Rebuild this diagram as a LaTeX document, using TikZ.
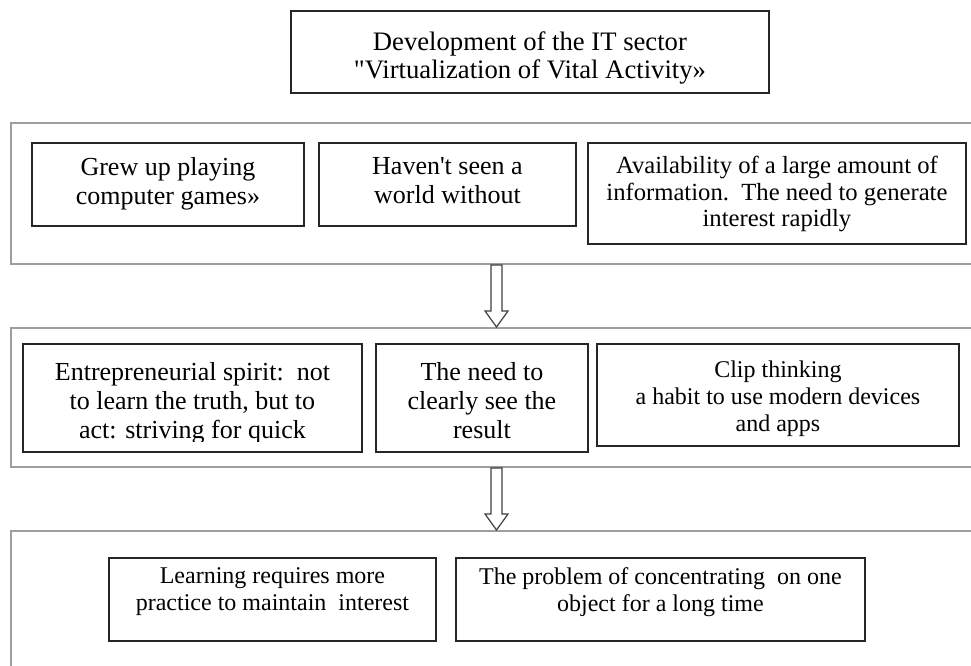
\documentclass[tikz,border=0pt]{standalone}
\usepackage{fontspec}
\setmainfont{Liberation Serif}
\usetikzlibrary{calc}
\begin{document}
\begin{tikzpicture}[x=0.75pt,y=-0.75pt,
  panel/.style={draw=black!38, line width=1.5pt, rectangle, inner sep=0, anchor=north west},
  box/.style={draw=black!85, line width=1.4pt, rectangle, inner sep=0, anchor=north west},
  txt/.style={align=center, inner sep=0, anchor=north},
  txtT/.style={txt, font=\fontsize{20}{21}\selectfont},
  txtL/.style={txt, font=\fontsize{19.5}{22}\selectfont},
  txtM/.style={txt, font=\fontsize{18.5}{20}\selectfont},
  txtS/.style={txt, font=\fontsize{18}{20.25}\selectfont},
  harrow/.style={draw=black!75, line width=0.9pt, fill=white, line join=miter}]
\clip (0,0) rectangle (971,666);
\fill[white] (0,0) rectangle (971,666);

% top box
\node[box, minimum width=358.5pt, minimum height=61.5pt] (top) at (290,10) {};
\node[txtT] (topt) at ($(top.north)+(0,21)$) {Development of the IT sector\\\textquotedbl Virtualization of Vital Activity»};

% panels
\node[panel, minimum width=731.25pt, minimum height=105.75pt] (P1) at (10,122) {};
\node[panel, minimum width=731.25pt, minimum height=104.25pt] (P2) at (10,327) {};
\node[panel, minimum width=731.25pt, minimum height=120pt] (P3) at (10,530) {};

% row 1
\node[box, minimum width=204pt, minimum height=62.25pt] (A1) at (31,142) {};
\node[txtL] (A1t) at ($(A1.north)+(0,15)$) {Grew up playing\\computer games»};
\node[box, minimum width=192.75pt, minimum height=62.25pt] (A2) at (318,142) {};
\node[txtL] (A2t) at ($(A2.north)+(0,15)$) {Haven\textquotesingle t seen a\\world without};
\node[box, minimum width=283.5pt, minimum height=75.75pt] (A3) at (587,142) {};
\node[txtM] (A3t) at ($(A3.north)+(0,14)$) {Availability of a large amount of\\information.\ \ The need to generate\\interest rapidly};

% row 2
\node[box, minimum width=254.25pt, minimum height=81pt] (B1) at (22,343) {};
\begin{scope}
  \clip (B1.north west) rectangle ($(B1.south east)+(0,-11)$);
  \node[txtL] (B1t) at ($(B1.north)+(0,19)$) {Entrepreneurial spirit:\ \ not\\to learn the truth, but to\\act: striving for quick};
\end{scope}
\node[box, minimum width=159pt, minimum height=81pt] (B2) at (375,343) {};
\node[txtL] (B2t) at ($(B2.north)+(0,19)$) {The need to\\clearly see the\\result};
\node[box, minimum width=271.5pt, minimum height=76.5pt] (B3) at (596,343) {};
\node[txtS] (B3t) at ($(B3.north)+(0,18)$) {Clip thinking\\a habit to use modern devices\\and apps};

% row 3
\node[box, minimum width=245.25pt, minimum height=62.25pt] (C1) at (108,557) {};
\node[txtS] (C1t) at ($(C1.north)+(0,10)$) {Learning requires more\\practice to maintain\ \ interest};
\node[box, minimum width=306.75pt, minimum height=62.25pt] (C2) at (455,557) {};
\node[txtS] (C2t) at ($(C2.north)+(0,10)$) {The problem of concentrating\ \ on one\\object for a long time};

% hollow arrows between panels
\coordinate (s1) at (P1.south west -| 496.5,0);
\coordinate (e1) at (P2.north west -| 496.5,0);
\coordinate (s2) at (P2.south west -| 496.5,0);
\coordinate (e2) at (P3.north west -| 496.5,0);
\draw[harrow] ($(s1)+(-5.5,0)$) -- ($(e1)+(-5.5,-16)$) -- ($(e1)+(-11.5,-16)$) -- (e1)
  -- ($(e1)+(11.5,-16)$) -- ($(e1)+(5.5,-16)$) -- ($(s1)+(5.5,0)$) -- cycle;
\draw[harrow] ($(s2)+(-5.5,0)$) -- ($(e2)+(-5.5,-16)$) -- ($(e2)+(-11.5,-16)$) -- (e2)
  -- ($(e2)+(11.5,-16)$) -- ($(e2)+(5.5,-16)$) -- ($(s2)+(5.5,0)$) -- cycle;
\end{tikzpicture}
\end{document}
